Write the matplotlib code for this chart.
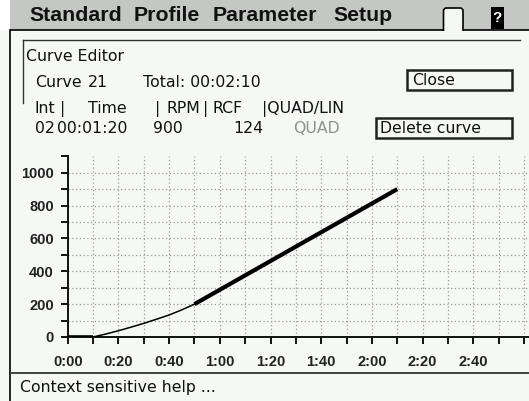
import matplotlib
matplotlib.use("Agg")
import matplotlib.pyplot as plt
from matplotlib.patches import Rectangle, FancyBboxPatch
from matplotlib.ticker import MultipleLocator, FuncFormatter

# ---- data ----
ramp_time = [10, 15, 20, 25, 30, 35, 40, 45, 50]           # seconds
ramp_rpm = [0, 18, 38, 60, 83, 108, 134, 165, 200]
hold_time = [0, 10]
hold_rpm = [0, 0]
sel_time = [50, 130]
sel_rpm = [200, 900]

menu_items = ["Standard", "Profile", "Parameter", "Setup"]
header_cols = ["Int", "|", "Time", "|", "RPM", "|", "RCF", "|QUAD/LIN"]
row_vals = ["02", "00:01:20", "900", "124"]
row_mode = "QUAD"
curve_no = "21"
total_txt = "Total: 00:02:10"

W, H = 529, 401
BG = "#f5f8f5"
BAR = "#c4c7c4"
GRID = "#9a9a9a"

fig = plt.figure(figsize=(W / 100, H / 100), dpi=100)
fig.patch.set_facecolor(BG)

ui = fig.add_axes([0, 0, 1, 1])
ui.set_xlim(0, W)
ui.set_ylim(H, 0)
ui.axis("off")

# top menu bar
ui.add_patch(Rectangle((10, 0), W - 10, 30, facecolor=BAR, edgecolor="none"))
ui.add_patch(Rectangle((0, 0), 10, 30, facecolor="#ffffff", edgecolor="none"))
# tab
ui.add_patch(FancyBboxPatch((443.5, 8), 19.5, 30, boxstyle="round,pad=0,rounding_size=3",
                            facecolor=BG, edgecolor="black", lw=1.2))
ui.add_patch(Rectangle((442, 30.5), 23, 10, facecolor=BG, edgecolor="none"))
# help box
ui.add_patch(Rectangle((491, 7), 12.5, 21.5, facecolor="black", edgecolor="none"))
ui.text(497.3, 18, "?", color="white", fontsize=11, fontweight="bold",
        family="Liberation Sans", ha="center", va="center")

# frame lines
ui.plot([10, 443.5], [30, 30], color="black", lw=1.2, solid_capstyle="butt")
ui.plot([463, W], [30, 30], color="black", lw=1.2, solid_capstyle="butt")
ui.plot([10, 10], [30, H], color="black", lw=1.2)
ui.plot([23, 520], [40, 40], color="#333333", lw=1.0)
ui.plot([23, 23], [40, 103], color="#333333", lw=1.0)
ui.plot([10, W], [373, 373], color="#333333", lw=1.3)

menu_x = [29, 134, 213, 333]
for name, x in zip(menu_items, menu_x):
    ui.text(x, 15.5, name, fontsize=15.3, fontweight="bold", family="Liberation Sans",
            ha="left", va="center", color="#111111")

tf = dict(family="DejaVu Sans", fontsize=11.3, color="#111111", ha="left", va="baseline")
ui.text(26, 61, "Curve Editor", **tf)
ui.text(35, 87, "Curve", **tf)
ui.text(88, 87, curve_no, **tf)
ui.text(143, 87, total_txt, **tf)

hx = [35, 60, 88, 155, 167, 203, 213, 262]
for s, x in zip(header_cols, hx):
    ui.text(x, 113, s, **tf)
rx = [35, 57, 153, 233]
for s, x in zip(row_vals, rx):
    ui.text(x, 133, s, **tf)
ui.text(293, 133, row_mode, **{**tf, "color": "#909090"})

# buttons
ui.add_patch(Rectangle((406.5, 69.5), 105.5, 20.5, facecolor=BG, edgecolor="#222222", lw=1.8))
ui.text(412, 85, "Close", **tf)
ui.add_patch(Rectangle((375.5, 117.5), 136.5, 20, facecolor=BG, edgecolor="#222222", lw=1.8))
ui.text(380, 133, "Delete curve", **tf)

ui.text(20, 392, "Context sensitive help ...", **tf)

# ---- chart ----
x0_px, y0_px, ytop_px = 67.7, 337, 156
px_per_s = 2.535
px_per_rpm = 0.1643
xmax = (W - x0_px) / px_per_s
ymax = (y0_px - ytop_px) / px_per_rpm

ax = fig.add_axes([x0_px / W, (H - y0_px) / H, (W - x0_px) / W, (y0_px - ytop_px) / H])
ax.patch.set_visible(False)
ax.set_xlim(0, xmax)
ax.set_ylim(0, ymax)
for s in ("top", "right"):
    ax.spines[s].set_visible(False)
for s in ("left", "bottom"):
    ax.spines[s].set_linewidth(1.4)
    ax.spines[s].set_color("#111111")
ax.spines["bottom"].set_bounds(-1, xmax)

ax.xaxis.set_minor_locator(MultipleLocator(10))
ax.yaxis.set_minor_locator(MultipleLocator(100))
ax.set_xticks([t for t in range(0, 180, 20)])
ax.xaxis.set_major_formatter(FuncFormatter(lambda v, p: f"{int(v)//60}:{int(v)%60:02d}"))
ax.set_yticks([0, 200, 400, 600, 800, 1000])
ax.tick_params(axis="both", which="both", direction="out", length=5, width=1.4, color="#111111")
ax.tick_params(axis="x", which="major", pad=8)
ax.tick_params(axis="y", which="major", pad=5)
for lab in ax.get_xticklabels() + ax.get_yticklabels():
    lab.set_family("Liberation Sans")
    lab.set_fontsize(10.5)
    lab.set_fontweight("bold")
    lab.set_color("#222222")

for t in range(10, int(xmax) + 1, 10):
    ax.axvline(t, color=GRID, lw=0.9, ls=(0, (1, 2)), zorder=0)
for r in range(100, 1001, 100):
    ax.axhline(r, color=GRID, lw=0.9, ls=(0, (1, 2)), zorder=0)

ax.plot(ramp_time, ramp_rpm, color="black", lw=1.1, zorder=3)
ax.plot(hold_time, hold_rpm, color="black", lw=2.6, zorder=3, solid_capstyle="butt")
ax.plot(sel_time, sel_rpm, color="black", lw=3.0, zorder=3, solid_capstyle="butt")

fig.savefig("out.png", dpi=100, facecolor=BG)
